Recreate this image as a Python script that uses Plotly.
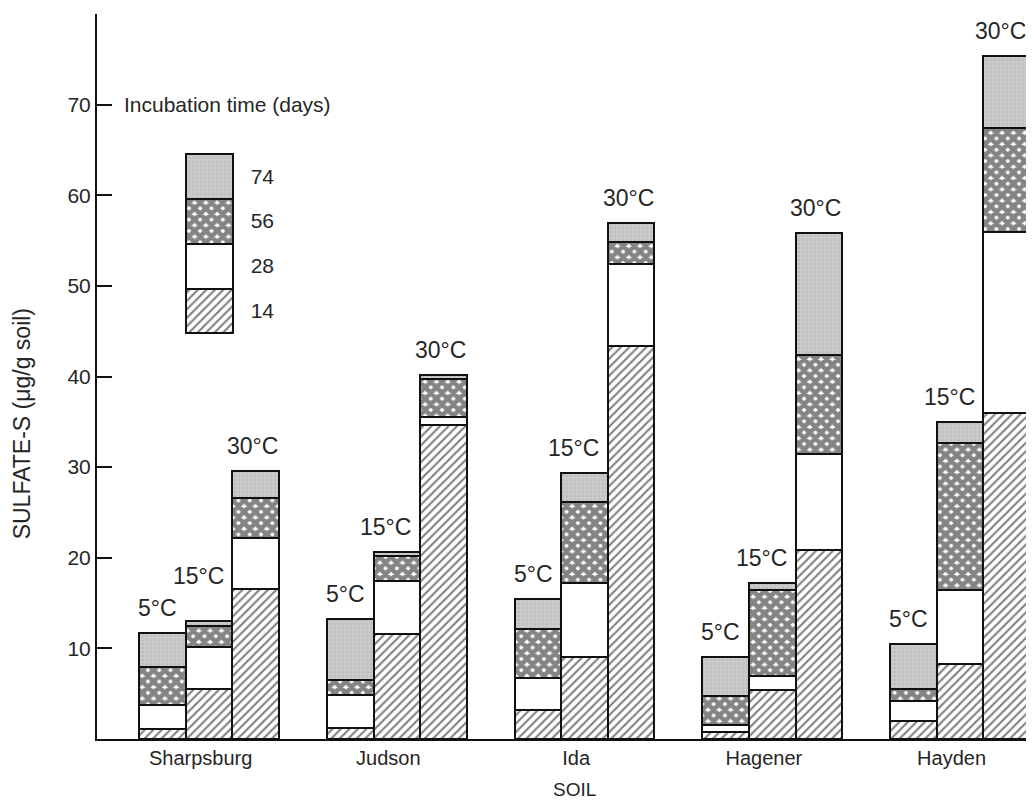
import plotly.graph_objects as go

# ---------------- data ----------------
soils = ["Sharpsburg", "Judson", "Ida", "Hagener", "Hayden"]
temps = ["5°C", "15°C", "30°C"]
days = ["14", "28", "56", "74"]
# cumulative sulfate-S (ug/g soil) after each incubation time; order: per soil 5, 15, 30 °C
day14 = [1.1, 5.5, 16.5, 1.2, 11.6, 34.6, 3.2, 9.0, 43.4, 0.8, 5.4, 20.9, 2.0, 8.3, 36.0]
day28 = [3.8, 10.1, 22.2, 4.9, 17.4, 35.5, 6.7, 17.2, 52.4, 1.5, 7.0, 31.4, 4.2, 16.4, 55.9]
day56 = [7.9, 12.5, 26.6, 6.5, 20.2, 39.7, 12.1, 26.1, 54.8, 4.8, 16.4, 42.4, 5.5, 32.7, 67.4]
day74 = [11.7, 13.0, 29.6, 13.2, 20.6, 40.2, 15.4, 29.4, 56.9, 9.1, 17.2, 55.8, 10.5, 35.0, 75.4]
y_ticks = [10, 20, 30, 40, 50, 60, 70, 80]
y_ticklabels = ["10", "20", "30", "40", "50", "60", "70", ""]

# ---------------- styles ----------------
FONT = "Liberation Sans, Arial, sans-serif"
TXT = "#262626"
W = 0.248  # bar width in group units
styles = [
    dict(color="white", pattern=dict(shape="/", fgcolor="#000", size=6, solidity=0.35, fillmode="overlay")),
    dict(color="white", pattern=dict(shape="")),
    dict(color="white", pattern=dict(shape="x", fgcolor="#0a0a0a", size=8, solidity=0.82, fillmode="overlay")),
    dict(color="#c9c9c9", pattern=dict(shape=".", fgcolor="#9c9c9c", size=4, solidity=0.15, fillmode="overlay")),
]
LINE = dict(color="#111", width=2)

cum = [day14, day28, day56, day74]
xs = [s + (t - 1) * W for s in range(len(soils)) for t in range(len(temps))]

fig = go.Figure()
for k in range(4):
    inc = [cum[k][i] - (cum[k - 1][i] if k > 0 else 0) for i in range(len(xs))]
    fig.add_trace(go.Bar(
        x=xs, y=inc, width=W, name=days[k], showlegend=False,
        marker=dict(color=styles[k]["color"], pattern=styles[k]["pattern"], line=LINE),
        hoverinfo="skip",
    ))

# legend box (drawn as stacked bars on an inset axis)
for k in range(4):
    fig.add_trace(go.Bar(
        x=[0], y=[1], width=1, xaxis="x2", yaxis="y2", showlegend=False,
        marker=dict(color=styles[k]["color"], pattern=styles[k]["pattern"], line=LINE),
        hoverinfo="skip",
    ))

# temperature labels
label_dx = {"5°C": -5, "15°C": -11, "30°C": -3}
annotations = []
for i, x in enumerate(xs):
    t = temps[i % 3]
    dy = 25
    dx = label_dx[t]
    if i == 1:
        dy = 45
    if i == len(xs) - 1:
        dx = -6
    annotations.append(dict(
        x=x, y=day74[i], xref="x", yref="y", text=t, showarrow=False,
        xshift=dx, yshift=dy, yanchor="middle", xanchor="center",
        font=dict(family=FONT, size=23, color=TXT)))

annotations += [
    dict(text="Incubation time (days)", xref="paper", yref="paper", x=0.027, y=0.8745,
         xanchor="left", yanchor="middle", showarrow=False,
         font=dict(family=FONT, size=21, color=TXT)),
    dict(text="SULFATE-S (μg/g soil)", xref="paper", yref="paper", x=0, y=0.434,
         xshift=-75, textangle=-90, xanchor="center", yanchor="middle", showarrow=False,
         font=dict(family=FONT, size=23, color=TXT)),
    dict(text="SOIL", xref="paper", yref="paper", x=0.51, y=0, yshift=-50,
         xanchor="center", yanchor="middle", showarrow=False,
         font=dict(family=FONT, size=19, color=TXT)),
]

# page body has an 8px margin: figure is sized/offset to compensate
fig.update_layout(
    width=1026, height=797,
    margin=dict(l=89, r=0, t=6, b=66),
    paper_bgcolor="white", plot_bgcolor="white",
    barmode="stack", bargap=0,
    font=dict(family=FONT, color=TXT),
    annotations=annotations,
    xaxis=dict(range=[-0.597, 4.394], showgrid=False, zeroline=False,
               showline=True, linecolor="#111", linewidth=2,
               tickvals=[s - 0.045 for s in range(len(soils))], ticktext=soils,
               ticks="", tickfont=dict(family=FONT, size=20, color=TXT)),
    yaxis=dict(range=[0, 80], showgrid=False, zeroline=False,
               showline=True, linecolor="#111", linewidth=2,
               tickvals=y_ticks, ticktext=y_ticklabels,
               ticks="inside", ticklen=15, tickwidth=2, tickcolor="#111",
               tickfont=dict(family=FONT, size=21, color=TXT)),
    xaxis2=dict(domain=[0.092, 0.148], anchor="y2", range=[-0.56, 0.56],
                showgrid=False, zeroline=False, showline=False, showticklabels=False, ticks=""),
    yaxis2=dict(domain=[0.5569, 0.81], anchor="x2", range=[-0.05, 4.05], side="right",
                showgrid=False, zeroline=False, showline=False, ticks="",
                tickvals=[0.5, 1.5, 2.5, 3.5], ticktext=days, ticklabelstandoff=14,
                tickfont=dict(family=FONT, size=21, color=TXT)),
)

fig.write_html("out.html")
